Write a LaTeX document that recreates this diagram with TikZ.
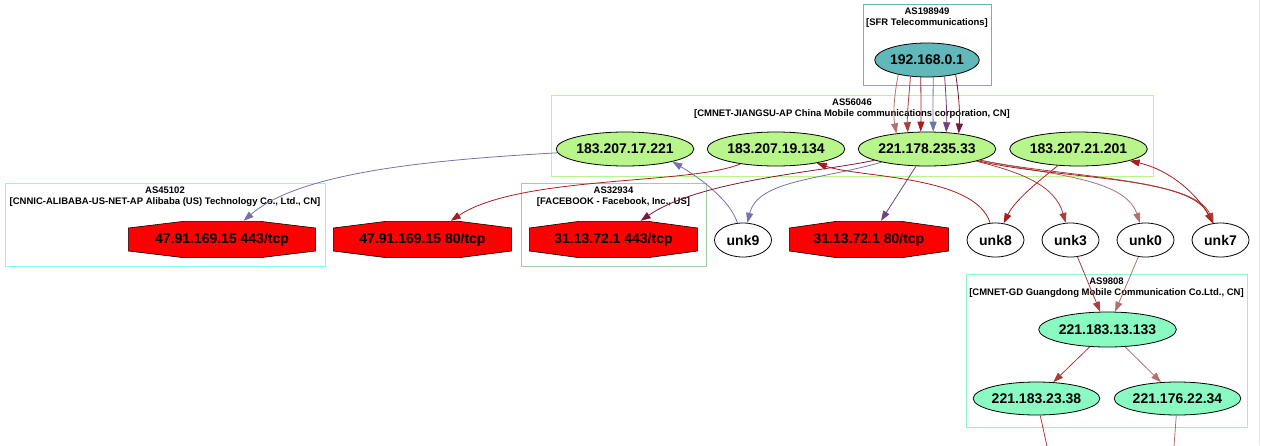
\documentclass[tikz,border=0pt]{standalone}
\usepackage{fontspec}
\setmainfont{Liberation Sans}
\usetikzlibrary{arrows.meta,shapes.geometric,positioning}

\definecolor{tealc}{RGB}{96,184,186}
\definecolor{lgreen}{RGB}{184,246,140}
\definecolor{lcyan}{RGB}{128,250,250}
\definecolor{fbgreen}{RGB}{160,208,160}
\definecolor{aqua}{RGB}{137,250,194}
\definecolor{ca}{RGB}{176,112,112}
\definecolor{cb}{RGB}{170,60,60}
\definecolor{cc}{RGB}{165,30,30}
\definecolor{cd}{RGB}{115,115,170}
\definecolor{ce}{RGB}{115,65,125}
\definecolor{cf}{RGB}{120,25,55}

\begin{document}
\begin{tikzpicture}[x=1pt, y=-1pt, node distance=75pt,
  ell/.style={draw, ellipse, line width=0.8pt, inner sep=0pt, minimum height=34pt, font=\bfseries\fontsize{14}{16}\selectfont},
  unk/.style={ell, minimum width=57pt},
  oct/.style={rectangle, inner sep=0pt, minimum width=#1, minimum height=37pt, font=\bfseries\fontsize{14}{16}\selectfont,
    path picture={
      \draw[fill=red, line width=0.6pt]
        ([xshift=0.293*#1, yshift=-0.4pt]path picture bounding box.north west) --
        ([xshift=-0.293*#1, yshift=-0.4pt]path picture bounding box.north east) --
        ([xshift=-0.4pt, yshift=-7pt]path picture bounding box.north east) --
        ([xshift=-0.4pt, yshift=7pt]path picture bounding box.south east) --
        ([xshift=-0.293*#1, yshift=0.4pt]path picture bounding box.south east) --
        ([xshift=0.293*#1, yshift=0.4pt]path picture bounding box.south west) --
        ([xshift=0.4pt, yshift=7pt]path picture bounding box.south west) --
        ([xshift=0.4pt, yshift=-7pt]path picture bounding box.north west) -- cycle;
    }},
  box/.style={line width=1pt},
  aslab/.style={align=center, inner sep=0pt, font=\bfseries\fontsize{9.5}{11}\selectfont},
  e/.style={line width=0.8pt, -{Triangle[length=10pt, width=7pt]}}]

\useasboundingbox (0,0) rectangle (1261,445);
\clip (0,0) rectangle (1261,445);
\draw[gray!20, line width=1pt] (1259,0) -- (1259,445);

\draw[box, tealc] (863,4) rectangle (991,85);
\draw[box, lgreen] (551,95) rectangle (1153,176);
\draw[box, lcyan] (5,183) rectangle (325,266);
\draw[box, fbgreen] (521,183) rectangle (706,266);
\draw[box, aqua] (966,274) rectangle (1247,427);

\node[aslab] (l1) at (927,18) {AS198949\\{[SFR Telecommunications]}};
\node[aslab] (l2) at (852,109) {AS56046\\{[CMNET-JIANGSU-AP China Mobile communications corporation, CN]}};
\node[aslab] (l3) at (165,197) {AS45102\\{[CNNIC-ALIBABA-US-NET-AP Alibaba (US) Technology Co., Ltd., CN]}};
\node[aslab] (l4) at (613.5,197) {AS32934\\{[FACEBOOK - Facebook, Inc., US]}};
\node[aslab] (l5) at (1106.5,288) {AS9808\\{[CMNET-GD Guangdong Mobile Communication Co.Ltd., CN]}};

\node[ell, fill=tealc, minimum width=103pt] (n1) at (927,60) {192.168.0.1};
\node[ell, fill=lgreen, minimum width=134pt] (n2) at (625,149) {183.207.17.221};
\node[ell, fill=lgreen, minimum width=132pt, node distance=151pt] (n3) [right of=n2] {183.207.19.134};
\node[ell, fill=lgreen, minimum width=132pt, node distance=151pt] (n4) [right of=n3] {221.178.235.33};
\node[ell, fill=lgreen, minimum width=133pt, node distance=151.5pt] (n5) [right of=n4] {183.207.21.201};

\node[oct=188pt] (o1) at (222,239.5) {47.91.169.15 443/tcp};
\node[oct=179pt] (o2) at (422.5,239.5) {47.91.169.15 80/tcp};
\node[oct=169pt] (o3) at (613.5,239.5) {31.13.72.1 443/tcp};
\node[oct=160pt] (o4) at (869,239.5) {31.13.72.1 80/tcp};

\node[unk] (u9) at (743,240) {unk9};
\node[unk] (u8) at (995.5,240) {unk8};
\node[unk] (u3) [right of=u8] {unk3};
\node[unk] (u0) [right of=u3] {unk0};
\node[unk] (u7) [right of=u0] {unk7};

\node[ell, fill=aqua, minimum width=133pt, minimum height=35pt] (m1) at (1107.5,329.5) {221.183.13.133};
\node[ell, fill=aqua, minimum width=123pt, minimum height=33pt] (m2) at (1036.5,398.5) {221.183.23.38};
\node[ell, fill=aqua, minimum width=123pt, minimum height=33pt] (m3) at (1177.5,398.5) {221.176.22.34};

\coordinate (x1) at (1050,460);
\coordinate (x2) at (1173,460);

\draw[e, ca] (n1.207) .. controls (894,95) and (893,115) .. (n4.153);
\draw[e, cb] (n1.225) .. controls (909,95) and (907,115) .. (n4.139);
\draw[e, cc] (n1.250) .. controls (921,95) and (921,115) .. (n4.110);
\draw[e, cd] (n1.290) .. controls (933,95) and (933,115) .. (n4.70);
\draw[e, ce] (n1.317) .. controls (946,95) and (947,115) .. (n4.41);
\draw[e, cf] (n1.333) .. controls (959,95) and (960,115) .. (n4.26);

\draw[e, cd] (n2) .. controls (430,160) and (300,172) .. (o1);
\draw[e, cd] (u9) .. controls (730,200) and (700,178) .. (n2.-15);
\draw[e, cc] (n3) .. controls (690,185) and (520,175) .. (o2);
\draw[e, cf] (n4) .. controls (820,172) and (700,180) .. (o3);
\draw[e, cd] (n4) .. controls (820,180) and (758,180) .. (u9);
\draw[e, ce] (n4) -- (o4);
\draw[e, cc] (u8) .. controls (975,175) and (860,178) .. (n3);
\draw[e, cc] (n5) .. controls (1040,180) and (1015,200) .. (u8);
\draw[e, cb] (n4) .. controls (1020,172) and (1055,185) .. (u3);
\draw[e, ca] (n4) .. controls (1050,175) and (1125,178) .. (u0);
\draw[e, cc] (n4) .. controls (1060,180) and (1190,175) .. (u7);
\draw[e, cb] (n4) .. controls (1060,177) and (1195,178) .. (u7);
\draw[e, cc] (u7) .. controls (1200,195) and (1170,170) .. (n5);

\draw[e, cb] (u3) -- (m1);
\draw[e, ca] (u0) -- (m1);
\draw[e, cb] (m1) -- (m2);
\draw[e, ca] (m1) -- (m3);
\draw[line width=0.8pt, cb] (m2) -- (x1);
\draw[line width=0.8pt, ca] (m3) -- (x2);

\end{tikzpicture}
\end{document}
